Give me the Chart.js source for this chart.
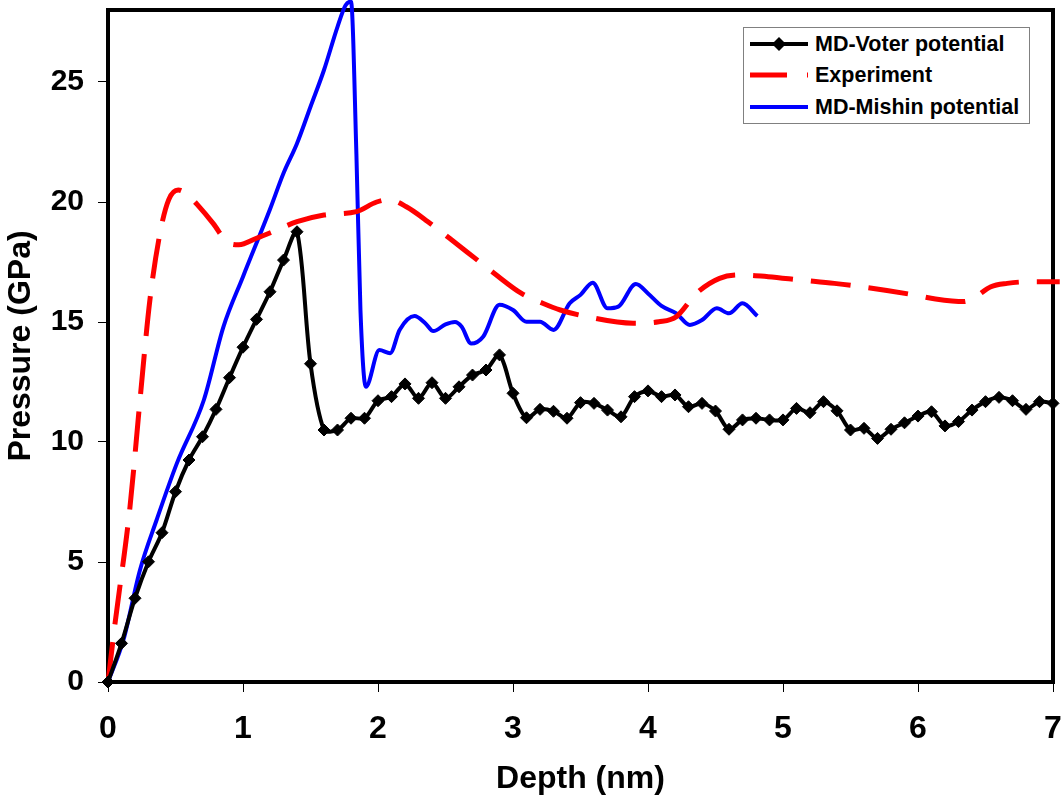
<!DOCTYPE html>
<html lang="en">
<head>
  <meta charset="UTF-8">
  <title>Pressure vs Depth</title>
  <style>
    body {
      margin: 0;
      background: #fff;
      font-family: "Liberation Sans", Arial, sans-serif;
    }
    #wrap {
      position: relative;
      width: 1061px;
      height: 803px;
    }
    /* legend box sits inside the plot, top right */
    #legend {
      position: absolute;
      left: 743px;
      top: 27px;
      width: 287px;
      height: 97px;
      border: 1px solid #808080;
      background: #fff;
      box-sizing: border-box;
    }
    .row {
      position: absolute;
      left: 0;
      height: 30px;
      display: flex;
      align-items: center;
    }
    .row svg {
      margin-left: 6px;
    }
    .row span {
      margin-left: 7px;
      font-weight: bold;
      font-size: 21.5px;
      color: #000;
      white-space: nowrap;
    }
  </style>
</head>
<body>
<div id="wrap">
  <canvas id="pressureChart"></canvas>
  <div id="legend">
    <div class="row" style="top:1px">
      <svg width="58" height="14"><line x1="0" y1="7" x2="58" y2="7" stroke="#000" stroke-width="4"/><polygon points="29,0 36,7 29,14 22,7" fill="#000"/></svg>
      <span>MD-Voter potential</span>
    </div>
    <div class="row" style="top:32px">
      <svg width="58" height="14"><line x1="0" y1="7" x2="37" y2="7" stroke="#ff0000" stroke-width="5"/><line x1="57" y1="7" x2="58" y2="7" stroke="#ff0000" stroke-width="5"/></svg>
      <span>Experiment</span>
    </div>
    <div class="row" style="top:64px">
      <svg width="58" height="14"><line x1="0" y1="7" x2="58" y2="7" stroke="#0000ff" stroke-width="4"/></svg>
      <span>MD-Mishin potential</span>
    </div>
  </div>
</div>

<script src="https://cdn.jsdelivr.net/npm/chart.js"></script>
<script>
  // MD-Voter potential (every 0.1 nm)
  const voterDepth = [
    0, 0.1, 0.2, 0.3, 0.4, 0.5, 0.6, 0.7, 0.8, 0.9,
    1.0, 1.1, 1.2, 1.3, 1.4, 1.5, 1.6, 1.7, 1.8, 1.9,
    2.0, 2.1, 2.2, 2.3, 2.4, 2.5, 2.6, 2.7, 2.8, 2.9,
    3.0, 3.1, 3.2, 3.3, 3.4, 3.5, 3.6, 3.7, 3.8, 3.9,
    4.0, 4.1, 4.2, 4.3, 4.4, 4.5, 4.6, 4.7, 4.8, 4.9,
    5.0, 5.1, 5.2, 5.3, 5.4, 5.5, 5.6, 5.7, 5.8, 5.9,
    6.0, 6.1, 6.2, 6.3, 6.4, 6.5, 6.6, 6.7, 6.8, 6.9,
    7.0
  ];
  const voterPressure = [
    0, 1.61, 3.49, 5.01, 6.22, 7.93, 9.25, 10.22, 11.36, 12.68,
    13.95, 15.11, 16.26, 17.58, 18.76, 13.26, 10.5, 10.5, 10.99, 10.99,
    11.72, 11.89, 12.42, 11.82, 12.47, 11.82, 12.3, 12.79, 13.0, 13.63,
    12.03, 11.01, 11.36, 11.28, 10.99, 11.64, 11.61, 11.33, 11.05, 11.89,
    12.13, 11.89, 11.96, 11.47, 11.61, 11.29, 10.53, 10.92, 10.99, 10.92,
    10.92, 11.4, 11.22, 11.68, 11.3, 10.5, 10.57, 10.15, 10.53, 10.8,
    11.08, 11.26, 10.67, 10.85, 11.33, 11.68, 11.86, 11.72, 11.36, 11.68,
    11.61
  ];

  // Experiment
  const expDepth = [
    0, 0.052, 0.163, 0.237, 0.31, 0.385, 0.45, 0.52, 0.6, 0.66,
    0.78, 0.88, 0.97, 1.1, 1.25, 1.4, 1.6, 1.84, 1.99, 2.08,
    2.21, 2.37, 2.53, 2.72, 2.86, 3.06, 3.22, 3.35, 3.55, 3.89,
    4.08, 4.21, 4.36, 4.53, 4.68, 4.89, 5.13, 5.38, 5.54, 5.97,
    6.13, 6.34, 6.41, 6.54, 6.66, 6.84, 7.05
  ];
  const expPressure = [
    0, 2.44, 7.3, 11.75, 15.9, 18.7, 20.1, 20.5, 20.25, 19.9,
    19.1, 18.35, 18.22, 18.49, 18.83, 19.18, 19.46, 19.6, 20.0, 20.1,
    19.8, 19.18, 18.49, 17.65, 17.03, 16.2, 15.78, 15.5, 15.22, 14.95,
    15.01, 15.22, 16.2, 16.82, 16.96, 16.89, 16.75, 16.61, 16.5, 16.13,
    15.96, 15.85, 15.99, 16.47, 16.61, 16.68, 16.68
  ];

  // MD-Mishin potential
  const mishinDepth = [
    0, 0.114, 0.237, 0.36, 0.51, 0.71, 0.855, 1.0, 1.2, 1.3,
    1.4, 1.5, 1.6, 1.7, 1.76, 1.8, 1.84, 1.87, 1.91, 2.01,
    2.09, 2.16, 2.27, 2.35, 2.41, 2.5, 2.57, 2.62, 2.69, 2.78,
    2.9, 3.0, 3.1, 3.2, 3.3, 3.42, 3.5, 3.59, 3.7, 3.78,
    3.91, 4.0, 4.1, 4.21, 4.31, 4.4, 4.51, 4.6, 4.7, 4.81
  ];
  const mishinPressure = [
    0, 1.75, 4.67, 6.75, 9.11, 11.75, 14.8, 16.89, 19.7, 21.2,
    22.44, 23.97, 25.5, 27.3, 28.2, 28.35, 22.0, 15.5, 12.3, 13.83,
    13.7, 14.67, 15.25, 14.95, 14.62, 14.9, 15.0, 14.8, 14.1, 14.4,
    15.72, 15.5, 15.01, 15.01, 14.67, 15.78, 16.13, 16.64, 15.57, 15.64,
    16.58, 16.19, 15.67, 15.36, 14.88, 15.08, 15.57, 15.36, 15.78, 15.25
  ];

  const xTicks = [0, 1, 2, 3, 4, 5, 6, 7];
  const yTicks = [0, 5, 10, 15, 20, 25];

  function toPoints(xs, ys) {
    return xs.map((x, i) => ({ x: x, y: ys[i] }));
  }

  // thick black frame round the plot area
  const framePlugin = {
    id: 'frame',
    beforeDatasetsDraw(chart) {
      const { ctx, chartArea: a } = chart;
      ctx.save();
      ctx.strokeStyle = '#000';
      ctx.lineWidth = 4;
      ctx.strokeRect(a.left, a.top, a.right - a.left, a.bottom - a.top);
      ctx.restore();
    }
  };

  const fontFamily = '"Liberation Sans", Arial, sans-serif';
  const yTickFont = { family: fontFamily, size: 30, weight: 'bold' };
  const xTickFont = { family: fontFamily, size: 32, weight: 'bold' };
  const titleFont = { family: fontFamily, size: 32, weight: 'bold' };

  const ctx = document.getElementById('pressureChart').getContext('2d');
  new Chart(ctx, {
    type: 'line',
    data: {
      datasets: [
        {
          label: 'MD-Voter potential',
          data: toPoints(voterDepth, voterPressure),
          borderColor: '#000',
          borderWidth: 4,
          tension: 0.3,
          pointStyle: 'rectRot',
          pointRadius: 6,
          pointBackgroundColor: '#000',
          pointBorderColor: '#000',
          pointBorderWidth: 1,
          clip: false
        },
        {
          label: 'Experiment',
          data: toPoints(expDepth, expPressure),
          borderColor: '#ff0000',
          borderWidth: 5,
          borderDash: [40, 18],
          cubicInterpolationMode: 'monotone',
          pointRadius: 0,
          clip: false
        },
        {
          label: 'MD-Mishin potential',
          data: toPoints(mishinDepth, mishinPressure),
          borderColor: '#0000ff',
          borderWidth: 4,
          cubicInterpolationMode: 'monotone',
          pointRadius: 0,
          clip: false
        }
      ]
    },
    options: {
      responsive: true,
      maintainAspectRatio: false,
      animation: false,
      devicePixelRatio: 1,
      layout: { padding: { left: 0, top: 10, right: 8, bottom: 0 } },
      plugins: {
        legend: { display: false },
        tooltip: { enabled: false }
      },
      scales: {
        x: {
          type: 'linear',
          min: xTicks[0],
          max: xTicks[xTicks.length - 1],
          afterBuildTicks: s => { s.ticks = xTicks.map(v => ({ value: v })); },
          afterFit: s => {
            s.height = 121;
            s.paddingLeft = 0;
            s.paddingRight = 0;
          },
          ticks: { font: xTickFont, color: '#000', padding: 18 },
          grid: { drawOnChartArea: false, drawTicks: true, tickLength: 10, color: '#000', lineWidth: 1 },
          border: { display: false },
          title: { display: true, text: 'Depth (nm)', font: titleFont, color: '#000', padding: { top: 0, bottom: 5 } }
        },
        y: {
          type: 'linear',
          min: 0,
          max: 28,
          afterBuildTicks: s => { s.ticks = yTicks.map(v => ({ value: v })); },
          afterFit: s => {
            s.width = 108;
            s.paddingTop = 0;
            s.paddingBottom = 0;
          },
          ticks: { font: yTickFont, color: '#000', padding: 14 },
          grid: { drawOnChartArea: false, drawTicks: true, tickLength: 10, color: '#000', lineWidth: 1 },
          border: { display: false },
          title: { display: true, text: 'Pressure (GPa)', font: titleFont, color: '#000', padding: { top: 2, bottom: 0 } }
        }
      }
    },
    plugins: [framePlugin]
  });
</script>
</body>
</html>
